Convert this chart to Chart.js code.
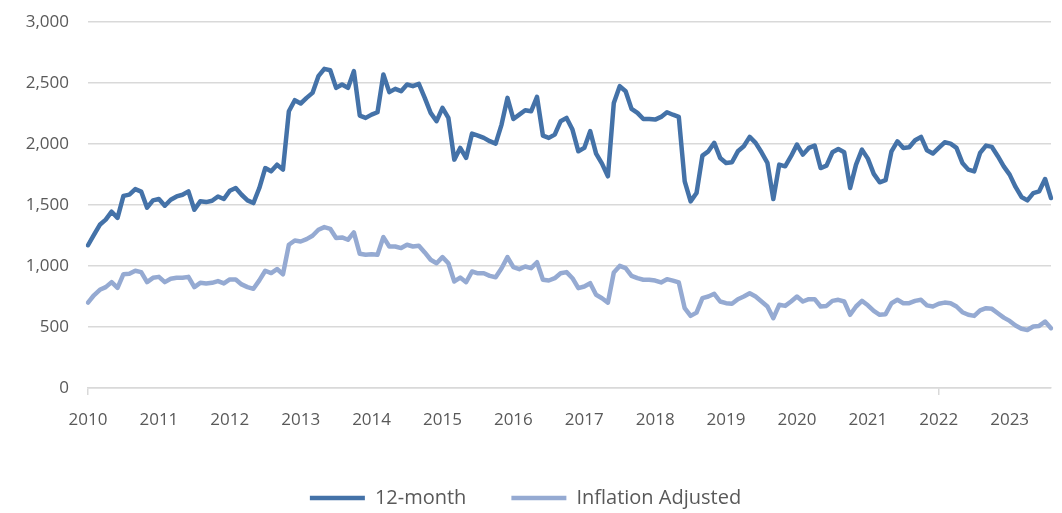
<!DOCTYPE html>
<html>
<head>
<meta charset="utf-8">
<script src="https://cdn.jsdelivr.net/npm/chart.js@4.4.0/dist/chart.umd.min.js"></script>
<style>
  html, body { margin: 0; padding: 0; background: #fff; }
  #wrap { width: 1062px; height: 513px; position: relative; }
</style>
</head>
<body>
<div id="wrap"><canvas id="lineChart"></canvas></div>
<script>
// Year labels on the x axis (one tick each January)
const yearLabels = ['2010', '2011', '2012', '2013', '2014', '2015', '2016',
                    '2017', '2018', '2019', '2020', '2021', '2022', '2023'];

// Y axis ticks
const yTicks = [0, 500, 1000, 1500, 2000, 2500, 3000];

// Monthly values, Jan 2010 - Aug 2023
const twelveMonth = [
  1170, 1255, 1338, 1380, 1445, 1395, 1575, 1585, 1630, 1610, 1478, 1538,
  1549, 1494, 1543, 1570, 1584, 1612, 1461, 1530, 1524, 1535, 1570, 1549,
  1617, 1639, 1584, 1538, 1516, 1639, 1803, 1776, 1830, 1790, 2268, 2359,
  2332, 2378, 2419, 2556, 2616, 2605, 2460, 2488, 2460, 2597, 2233, 2214,
  2241, 2260, 2570, 2425, 2452, 2433, 2488, 2474, 2493, 2378, 2255, 2187,
  2296, 2214, 1872, 1968, 1886, 2085, 2069, 2050, 2023, 2003, 2159, 2378,
  2205, 2241, 2277, 2268, 2386, 2069, 2050, 2077, 2187, 2214, 2118, 1940,
  1968, 2105, 1921, 1839, 1735, 2337, 2474, 2433, 2288, 2255, 2205, 2205,
  2200, 2222, 2260, 2240, 2222, 1694, 1530, 1598, 1905, 1940, 2009, 1886,
  1845, 1850, 1940, 1981, 2058, 2009, 1932, 1845, 1549, 1831, 1817, 1900,
  1995, 1913, 1968, 1987, 1803, 1822, 1932, 1959, 1932, 1640, 1831, 1954,
  1880, 1755, 1686, 1703, 1940, 2022, 1968, 1973, 2031, 2058, 1949, 1922,
  1968, 2014, 2003, 1968, 1845, 1790, 1776, 1927, 1987, 1976, 1900, 1817,
  1749, 1648, 1566, 1538, 1598, 1612, 1713, 1557
];

const inflationAdjusted = [
  700, 760, 805, 827, 868, 821, 933, 936, 961, 950, 868, 903,
  911, 868, 895, 903, 903, 911, 827, 862, 857, 862, 876, 857,
  890, 890, 849, 827, 813, 882, 961, 942, 975, 932, 1174, 1209,
  1201, 1220, 1248, 1297, 1319, 1305, 1229, 1234, 1215, 1275, 1100, 1092,
  1097, 1092, 1237, 1160, 1160, 1147, 1174, 1160, 1166, 1111, 1051, 1023,
  1073, 1023, 873, 905, 867, 955, 940, 941, 919, 908, 982, 1073,
  990, 974, 996, 982, 1031, 887, 881, 900, 941, 950, 900, 818,
  832, 859, 764, 736, 700, 947, 1001, 982, 919, 900, 887, 887,
  881, 865, 892, 880, 865, 654, 591, 618, 736, 750, 772, 709,
  695, 690, 728, 750, 777, 750, 709, 668, 572, 682, 673, 709,
  750, 709, 728, 728, 668, 673, 714, 723, 709, 600, 668, 714,
  678, 632, 600, 605, 695, 723, 695, 695, 714, 723, 677, 668,
  690, 700, 695, 668, 621, 600, 591, 636, 654, 649, 613, 577,
  550, 512, 485, 476, 504, 509, 545, 490
];

// Month categories: year label on January, blank otherwise
const categories = [];
yearLabels.forEach(function(year) {
    for (let m = 0; m < 12; m++) {
        if (categories.length < twelveMonth.length) {
            categories.push(m === 0 ? year : '');
        }
    }
});

const gridColor = '#d9d9d9';
const textColor = '#595959';

Chart.defaults.font.family = "'Open Sans', 'Noto Sans', sans-serif";
Chart.defaults.font.size = 17;
Chart.defaults.color = textColor;

const lineConfig = {
    type: 'line',
    data: {
        labels: categories,
        datasets: [
            {
                label: '12-month',
                data: twelveMonth,
                borderColor: '#4472a8',
                backgroundColor: '#4472a8',
                borderWidth: 4.5,
                borderCapStyle: 'round',
                borderJoinStyle: 'round',
                pointRadius: 0,
                tension: 0
            },
            {
                label: 'Inflation Adjusted',
                data: inflationAdjusted,
                borderColor: '#95aad2',
                backgroundColor: '#95aad2',
                borderWidth: 4.5,
                borderCapStyle: 'round',
                borderJoinStyle: 'round',
                pointRadius: 0,
                tension: 0
            }
        ]
    },
    options: {
        responsive: true,
        maintainAspectRatio: false,
        animation: false,
        layout: {
            padding: { left: 0, right: 11, top: 22, bottom: -5 }
        },
        plugins: {
            legend: {
                position: 'bottom',
                labels: {
                    usePointStyle: true,
                    pointStyle: 'line',
                    pointStyleWidth: 55,
                    padding: 45,
                    color: textColor,
                    font: { size: 20 }
                }
            },
            tooltip: { enabled: false }
        },
        scales: {
            x: {
                offset: false,
                border: { display: true, color: gridColor, width: 1.5 },
                grid: {
                    drawOnChartArea: false,
                    drawTicks: true,
                    tickLength: 7,
                    lineWidth: 1.5,
                    color: function(ctx) {
                        return ctx.index % 12 === 0 ? gridColor : 'rgba(0,0,0,0)';
                    }
                },
                ticks: {
                    autoSkip: false,
                    maxRotation: 0,
                    padding: 15,
                    callback: function(value, index) {
                        return index % 12 === 0 ? categories[index] : null;
                    }
                },
                afterFit: function(scale) {
                    scale.height = 55;
                }
            },
            y: {
                min: 0,
                max: 3000,
                border: { display: false },
                grid: {
                    color: gridColor,
                    lineWidth: 1.5,
                    drawTicks: false
                },
                ticks: {
                    stepSize: 500,
                    padding: 19,
                    callback: function(value) {
                        return yTicks.includes(value) ? value.toLocaleString('en-US') : null;
                    }
                },
                afterFit: function(scale) {
                    // fixed label column, and no extra room above/below for the tick padding
                    scale.width = 88;
                    scale.paddingTop = 8;
                    scale.paddingBottom = 8;
                }
            }
        }
    }
};

const lineChart = new Chart(document.getElementById('lineChart'), lineConfig);
</script>
</body>
</html>
